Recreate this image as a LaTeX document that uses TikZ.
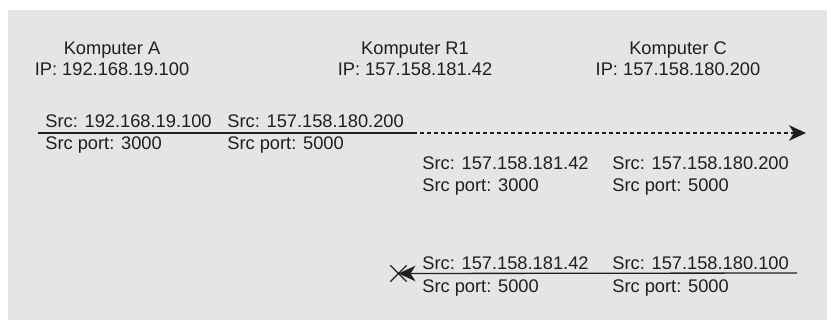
\documentclass[tikz,border=0pt]{standalone}
\usepackage{fontspec}
\setmainfont{Liberation Sans}
\usetikzlibrary{arrows.meta, shapes.misc, positioning}

\begin{document}
\begin{tikzpicture}[
  x=0.02cm, y=-0.02cm,
  font=\fontsize{10.4}{12}\selectfont,
  text=black!88,
  host/.style={align=center, inner sep=0pt},
  lbl/.style={anchor=base west, inner sep=0pt},
  arr/.style={-{Stealth[length=0.34cm, width=0.31cm, inset=0.1cm]}, line width=0.75pt, draw=black!88},
  seg/.style={line width=0.75pt, draw=black!88}
]

\useasboundingbox (0,0) rectangle (827,320);
\fill[black!10] (8,10) rectangle (827,320);

\node[host] (hostA) at (112,59) {Komputer A\\IP: 192.168.19.100};
\node[host] (hostR) at (415,59) {Komputer R1\\IP: 157.158.181.42};
\node[host] (hostC) at (678,59) {Komputer C\\IP: 157.158.180.200};

% outgoing packet
\coordinate (srcA) at (38,133);
\coordinate (viaR) at (413,133);
\coordinate (dstC) at (806,133);
\draw[seg] (srcA) -- (viaR);
\draw[arr, dash pattern=on 0.08cm off 0.06cm] (viaR) -- (dstC);

\node[lbl] (srcA1) at (45,128) {Src: 192.168.19.100};
\node[lbl] (portA1) at (45,150) {Src port: 3000};
\node[lbl] (srcA2) at (227,128) {Src: 157.158.180.200};
\node[lbl] (portA2) at (227,150) {Src port: 5000};

% seen at C
\node[lbl] (srcC1) at (422,170) {Src: 157.158.181.42};
\node[lbl] (portC1) at (422,192) {Src port: 3000};
\node[lbl] (srcC2) at (612,170) {Src: 157.158.180.200};
\node[lbl] (portC2) at (612,192) {Src port: 5000};

% reply, dropped
\coordinate (retC) at (797,273);
\node[cross out, draw=black!88, line width=0.75pt, minimum size=0.3cm, inner sep=0pt] (drop) at (398.5,273.5) {};
\draw[arr] (retC) -- (drop.center);

\node[lbl] (srcB1) at (422,270) {Src: 157.158.181.42};
\node[lbl] (portB1) at (422,292) {Src port: 5000};
\node[lbl] (srcB2) at (612,270) {Src: 157.158.180.100};
\node[lbl] (portB2) at (612,292) {Src port: 5000};

\end{tikzpicture}
\end{document}
